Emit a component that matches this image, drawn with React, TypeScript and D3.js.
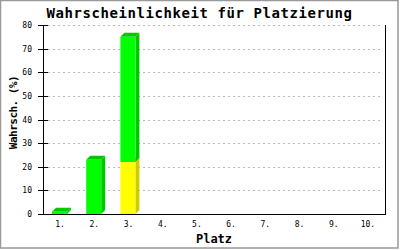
import React from "react";
import * as d3 from "d3";

const categories = ["1.", "2.", "3.", "4.", "5.", "6.", "7.", "8.", "9.", "10."];
const yellowValues = [0, 0, 22, 0, 0, 0, 0, 0, 0, 0];
const greenValues = [1, 23, 53, 0, 0, 0, 0, 0, 0, 0];
const yTicks = [0, 10, 20, 30, 40, 50, 60, 70, 80];
const title = "Wahrscheinlichkeit für Platzierung";
const xTitle = "Platz";
const yTitle = "Wahrsch. (%)";

const W = 400;
const H = 250;
const left = 43;
const right = 385;
const top = 25;
const bottom = 214;
const mono = "'DejaVu Sans Mono', 'Liberation Mono', monospace";

export default function App() {
  const x = d3.scaleBand<string>().domain(categories).range([left, right]).paddingInner(0).paddingOuter(0);
  const y = d3.scaleLinear().domain([0, 80]).range([bottom, top]);
  const depth = 4;
  const bw = 15;

  const series = [
    { values: yellowValues, front: "#ffff00", side: "#cccc00" },
    { values: greenValues, front: "#00ff00", side: "#00c800" },
  ];

  const bars: React.ReactNode[] = [];
  categories.forEach((c, i) => {
    let base = 0;
    const x0 = (x(c) as number) + 9;
    const x1 = x0 + bw;
    series.forEach((s, si) => {
      const v = s.values[i];
      if (v <= 0) return;
      const yb = y(base);
      const yt = y(base + v);
      base += v;
      bars.push(
        <g key={`${i}-${si}`}>
          <polygon
            points={`${x1},${yb} ${x1 + depth},${yb - depth} ${x1 + depth},${yt - depth} ${x1},${yt}`}
            fill={s.side}
          />
          <polygon
            points={`${x0},${yt} ${x0 + depth},${yt - depth} ${x1 + depth},${yt - depth} ${x1},${yt}`}
            fill={s.side}
          />
          <rect x={x0} y={yt} width={bw} height={yb - yt} fill={s.front} />
        </g>
      );
    });
  });

  return (
    <div style={{ position: "fixed", left: 0, top: 0 }}>
      <svg width={W} height={H} style={{ display: "block", background: "#fff" }}>
        <rect x={0.5} y={0.5} width={397.5} height={247.5} fill="#fff" stroke="#999" strokeWidth={1.5} />
        <text
          x={199.5}
          y={17.5}
          textAnchor="middle"
          fontFamily={mono}
          fontWeight="bold"
          fontSize={14}
          style={{ letterSpacing: "0.57px" }}
          fill="#000"
        >
          {title}
        </text>
        {yTicks.filter((t) => t > 0).map((t) => (
          <line
            key={`g${t}`}
            x1={48}
            x2={right - 2}
            y1={Math.round(y(t)) + 0.5}
            y2={Math.round(y(t)) + 0.5}
            stroke="#bbb"
            strokeDasharray="2,3"
          />
        ))}
        {bars}
        <line x1={left + 0.5} x2={left + 0.5} y1={top} y2={bottom + 1} stroke="#000" strokeWidth={1} />
        <line x1={right + 0.5} x2={right + 0.5} y1={top} y2={bottom + 1} stroke="#000" strokeWidth={1} />
        <line x1={38} x2={right + 1} y1={bottom + 0.5} y2={bottom + 0.5} stroke="#000" strokeWidth={1} />
        {yTicks.map((t) => (
          <g key={`t${t}`}>
            <line x1={38} x2={48} y1={Math.round(y(t)) + 0.5} y2={Math.round(y(t)) + 0.5} stroke="#000" />
            <text
              x={32}
              y={y(t) + 3}
              textAnchor="end"
              fontFamily={mono}
              fontSize={8}
              fill="#000"
            >
              {t}
            </text>
          </g>
        ))}
        {categories.map((c) => (
          <text
            key={c}
            x={(x(c) as number) + x.bandwidth() / 2}
            y={227}
            textAnchor="middle"
            fontFamily={mono}
            fontSize={8}
            fill="#000"
          >
            {c}
          </text>
        ))}
        <text
          x={214}
          y={243}
          textAnchor="middle"
          fontFamily={mono}
          fontWeight="bold"
          fontSize={12}
          fill="#000"
        >
          {xTitle}
        </text>
        <text
          transform={`translate(16.5,112.5) rotate(-90)`}
          textAnchor="middle"
          fontFamily={mono}
          fontWeight="bold"
          fontSize={11}
          style={{ letterSpacing: "-0.5px" }}
          fill="#000"
        >
          {yTitle}
        </text>
      </svg>
    </div>
  );
}
